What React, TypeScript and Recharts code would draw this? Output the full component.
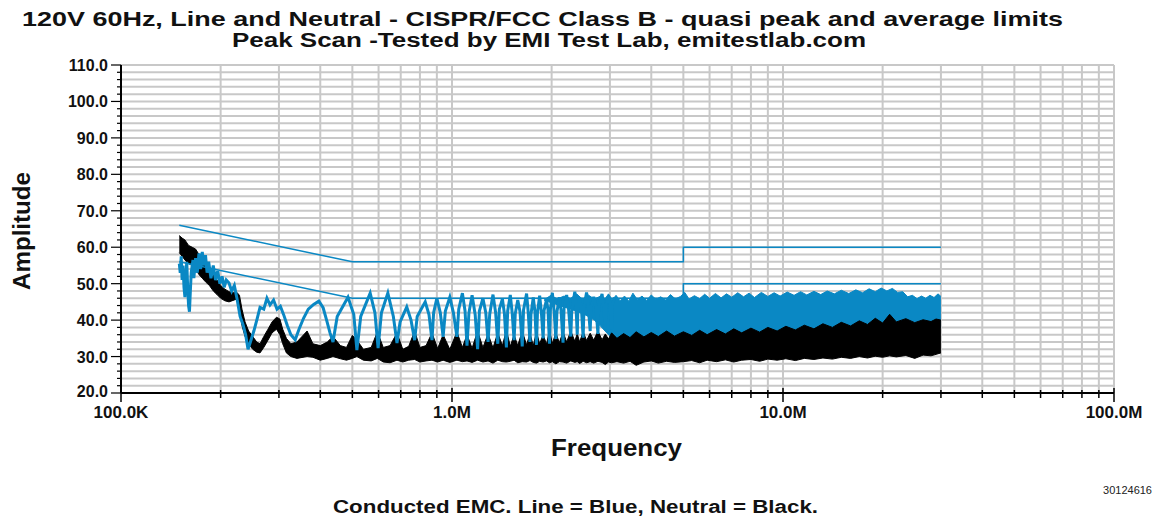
import React from "react";
import { ComposedChart, Line, Area, XAxis, YAxis, CartesianGrid } from "recharts";

// frequency in kHz, level in dB
const FONT = '"Liberation Sans", Arial, Helvetica, sans-serif';
const BLUE = "#0a88c4";

const xTicks = [100, 200, 300, 400, 500, 600, 700, 800, 900, 1000, 2000, 3000, 4000, 5000, 6000, 7000, 8000, 9000, 10000, 20000, 30000, 40000, 50000, 60000, 70000, 80000, 90000, 100000];
const xLabels: Record<number, string> = { 100: "100.0K", 1000: "1.0M", 10000: "10.0M", 100000: "100.0M" };
const yTicks = [20, 22, 24, 26, 28, 30, 32, 34, 36, 38, 40, 42, 44, 46, 48, 50, 52, 54, 56, 58, 60, 62, 64, 66, 68, 70, 72, 74, 76, 78, 80, 82, 84, 86, 88, 90, 92, 94, 96, 98, 100, 102, 104, 106, 108, 110];

// CISPR/FCC class B limits
const qpLimit: [number, number][] = [[150, 66], [500, 56], [5000, 56], [5000, 60], [30000, 60]];
const avgLimit: [number, number][] = [[150, 56], [500, 46], [5000, 46], [5000, 50], [30000, 50]];

// Line (blue) scan, low part where the trace is readable
const lineScan: [number, number][] = [
  [150, 55.5], [151, 53], [152, 57.5], [153, 51], [154, 55], [155, 49], [156, 46.3], [157, 52], [158, 56], [159, 49],
  [160, 44], [161, 42.3], [162, 48], [163, 53], [165, 56.5], [166, 51.5], [168, 57], [170, 53], [172, 58.3], [174, 54],
  [176, 58.7], [178, 55], [180, 57.8], [182, 53], [184, 56], [187, 51.5], [190, 55], [193, 51], [196, 53.5], [199, 50],
  [202, 52], [205, 49], [208, 51], [212, 50.2], [216, 48], [220, 49.5], [224, 46], [229, 41], [234, 38.6], [238, 36],
  [242, 32], [246, 34], [252, 37], [258, 40.5], [263, 43.5], [270, 43], [276, 46], [282, 44.2], [289, 45.5], [296, 43],
  [303, 43.8], [310, 41.5], [318, 38.5], [326, 36], [336, 34.6], [345, 37.5], [356, 40.5], [368, 43], [382, 44.3], [396, 45.2],
  [408, 43.4], [418, 40], [428, 36.5],
  [437, 34], [450, 41], [485, 46.3], [505, 41.5],
  [516, 31.8], [530, 41], [566, 47.4], [585, 42],
  [598, 32.3], [612, 42], [640, 47.4], [665, 41],
  [682, 33.7], [697, 39.5], [730, 43.6], [752, 40],
  [771, 34.5], [785, 41], [830, 45], [852, 41.5],
  [870, 34.5], [880, 42], [900, 46], [922, 42],
  [940, 35.4], [955, 42.5], [985, 46.3], [1010, 42],
  [1035, 35.4], [1048, 43], [1075, 47.4], [1095, 42.5],
  [1110, 33], [1125, 42], [1150, 46.8], [1175, 41.5],
  [1195, 32], [1210, 42.5], [1240, 46], [1265, 42],
  [1285, 34], [1300, 41.6], [1330, 47], [1355, 42],
  [1375, 33.5], [1390, 43], [1420, 45.8], [1440, 41.8],
  [1460, 32.5], [1473, 42.5], [1500, 46.9], [1520, 42],
  [1540, 34.5], [1553, 41.8], [1580, 45.5], [1605, 42.3],
  [1630, 32.8], [1645, 42.8], [1680, 47.3], [1700, 42],
  [1720, 34], [1732, 41.5], [1760, 46.2], [1780, 42.5],
  [1800, 33.2], [1812, 42], [1840, 46.7], [1862, 42.2],
  [1885, 35], [1897, 42.6], [1930, 45.6], [1950, 42.8],
  [1970, 33.5], [1983, 43], [2010, 47.5], [2035, 42.5],
  [2060, 34.8], [2075, 42.2], [2110, 46.3], [2135, 42.7],
  [2165, 33.8], [2180, 43.2], [2220, 46.9], [2250, 43],
  [2285, 35.5], [2300, 42.5], [2350, 47.8], [2370, 43.5],
  [2390, 36], [2400, 43], [2430, 46], [2460, 43.3],
  [2490, 35.2], [2505, 43.6], [2550, 47.6], [2580, 43.8],
  [2615, 37], [2630, 43.5], [2680, 46.4], [2720, 43.6],
  [2760, 36.2], [2775, 44], [2840, 47.2], [2870, 44],
  [2905, 38], [2920, 44.2], [2970, 46.6], [3000, 44.5],
  [3035, 37.5], [3050, 44.3], [3100, 46.2],
];

// Line (blue) scan, dense part: [kHz, low, high]
const lineBand: [number, number, number][] = [
  [1900, 45.4, 45.6], [1990, 44.8, 46.8], [2080, 44.2, 45.8], [2180, 43.6, 46.6], [2280, 43, 45.9], [2380, 42.4, 47.2],
  [2480, 41.8, 45.7], [2580, 41, 46.9], [2690, 40, 45.8], [2800, 38.5, 46.5],
  [2900, 37, 45.8], [2970, 36, 47.2], [3050, 35, 45.5], [3130, 34, 46.8], [3220, 35, 45.3], [3320, 34, 46.6],
  [3420, 35, 45.2], [3520, 34, 47.4], [3630, 34.5, 45.6], [3750, 34, 46.6], [3870, 34.5, 45.4], [4000, 34, 46.9],
  [4130, 34.5, 45.7], [4270, 34, 46.4], [4420, 34.5, 45.5], [4570, 34, 47], [4730, 34.5, 45.8], [4900, 34, 46.5],
  [5050, 34.5, 47.6], [5200, 34, 45.8], [5400, 34.5, 46.7], [5600, 34, 45.9], [5800, 34.5, 47.1], [6000, 34, 46],
  [6250, 35, 47.3], [6500, 34.5, 46.1], [6750, 35, 47.2], [7000, 34.5, 46.3], [7300, 35, 47.5], [7600, 35, 46.4],
  [7900, 35.5, 47.4], [8200, 35, 46.2], [8600, 35.5, 47.6], [9000, 35, 46.5], [9400, 35.5, 47.5], [9800, 35.5, 46.6],
  [10300, 36, 47.7], [10800, 35.5, 46.8], [11300, 36, 47.8], [11800, 36, 46.9], [12400, 36.5, 47.9], [13000, 36, 47],
  [13600, 36.5, 48], [14300, 36.5, 47.2], [15000, 37, 48.2], [15800, 36.5, 47.3], [16600, 37, 48.3], [17400, 37, 47.5],
  [18200, 37.5, 48.6], [19000, 37, 47.8], [19800, 37.5, 48.8], [20600, 37.5, 48], [21400, 38, 48.7], [22200, 37.5, 47.6],
  [23000, 38, 47.8], [23800, 37.5, 46.4], [24600, 37.5, 46.8], [25400, 37, 45.9], [26200, 37.5, 46.6], [27000, 37.5, 46],
  [27800, 38, 46.8], [28600, 37.5, 46.2], [29400, 38, 47.2], [30000, 38, 46.5],
];

// Neutral (black) scan: [kHz, low, high]
const neutralBand: [number, number, number][] = [
  [150, 58.5, 63.2], [153, 57.5, 62.5], [156, 56.5, 62], [160, 55.5, 60.5], [164, 55, 60], [168, 54, 59.5],
  [172, 52.5, 58], [176, 51.5, 57], [180, 50.5, 55.5], [185, 49.5, 54], [190, 48, 52.5], [195, 47, 51],
  [200, 46, 49.5], [206, 45.3, 48.5], [212, 45, 47.8], [218, 45.4, 47.5], [224, 45.8, 47.6], [228, 43, 46.8],
  [232, 38.5, 43], [237, 35.5, 39.5], [243, 33.5, 37], [250, 32, 35.5], [257, 31.2, 34], [263, 31, 33.5],
  [270, 32.5, 35.5], [278, 34.5, 37.5], [286, 36.5, 39.5], [295, 37.5, 40.8], [302, 36, 40.3], [308, 33.5, 37.5],
  [316, 31, 35], [326, 30, 33.5], [340, 29.5, 34], [365, 30, 37], [380, 29.8, 33.5], [400, 29, 33],
  [420, 29.5, 34], [437, 30, 35.5], [460, 29.4, 33], [480, 29, 32.5], [500, 29.5, 35.8], [516, 30, 34.5],
  [540, 29, 32], [570, 28.8, 32.5], [595, 29.5, 36.8], [620, 28.5, 32.5], [650, 28.3, 33], [682, 29, 36.5],
  [710, 28.5, 32], [740, 29, 32.8], [771, 29.2, 37], [800, 28.5, 32.5], [835, 28.8, 33], [870, 29, 36.5],
  [905, 28.5, 32.2], [940, 29, 36], [985, 28.4, 32], [1035, 29, 36.8], [1075, 28.6, 32.5], [1110, 28.8, 36],
  [1150, 28.4, 32.3], [1195, 29, 37], [1240, 28.5, 32.5], [1285, 28.8, 36.2], [1330, 28.2, 32.4], [1375, 29, 36.5],
  [1420, 28.6, 33], [1460, 28.5, 37.3], [1500, 28.7, 32.8], [1540, 29, 36], [1580, 28.3, 33], [1630, 28.6, 37],
  [1680, 28.5, 33.2], [1720, 28.9, 36.4], [1760, 28.4, 33], [1800, 28.2, 36.8], [1840, 28.7, 33.5], [1885, 28.5, 36],
  [1930, 28.8, 33.4], [1970, 28.3, 37.2], [2010, 28.6, 33.6], [2060, 28, 36.5], [2110, 28.6, 33.8], [2165, 28.5, 36.8],
  [2220, 28.2, 34], [2285, 28.8, 37], [2350, 28.4, 34.2], [2390, 28.6, 36.3], [2430, 28.1, 34], [2490, 28.7, 36.8],
  [2550, 28.3, 34.4], [2615, 28.6, 36.4], [2680, 28.2, 34.5], [2760, 28.7, 37], [2840, 28.4, 34.6], [2905, 27.8, 36.2],
  [2970, 28.5, 34.8], [3035, 28.3, 36.5], [3150, 28.6, 35], [3300, 28.2, 36.3], [3450, 28.7, 35.2], [3600, 27.6, 36.8],
  [3800, 28.5, 35.4], [4000, 28.8, 36.6], [4200, 28.2, 35.5], [4450, 28.7, 37], [4700, 28.4, 35.6], [5000, 28.6, 36.8],
  [5300, 28.9, 35.8], [5600, 28.3, 37.2], [5900, 29, 36], [6300, 28.6, 37.4], [6700, 29.1, 36.2], [7100, 28.5, 37.6],
  [7500, 29, 36.5], [8000, 29.2, 37.8], [8500, 28.7, 36.7], [9000, 29.3, 38], [9600, 29, 37], [10200, 29.4, 38.3],
  [10900, 28.9, 37.3], [11600, 29.5, 38.6], [12400, 29.2, 37.6], [13200, 29.6, 39], [14100, 29.3, 38], [15000, 29.8, 39.4],
  [16000, 29.5, 38.4], [17000, 30, 39.8], [18000, 29.6, 38.8], [19000, 30.1, 40.5], [20000, 29.8, 39.2], [21000, 30.2, 41.6],
  [22000, 29.9, 39.5], [23500, 30.3, 40.4], [25000, 29.5, 39.3], [26500, 30.4, 40.1], [28000, 30.2, 39.6], [29000, 30.6, 40.3],
  [30000, 31, 40],
];

const pts = (a: [number, number][]) => a.map(([f, v]) => ({ f, v }));
const band = (a: [number, number, number][]) => a.map(([f, lo, hi]) => ({ f, r: [lo, hi] }));

const XTick = (props: any) => {
  const { x, y, payload } = props;
  const label = xLabels[payload.value];
  const major = label !== undefined;
  return (
    <g>
      <line x1={x} x2={x} y1={y - (major ? 5 : 3)} y2={y + (major ? 9 : 5)} stroke="#000" strokeWidth={1.5} />
      {major && (
        <text x={x} y={y + 25} textAnchor="middle" fontFamily={FONT} fontWeight="bold" fontSize={17} fill="#111">
          {label}
        </text>
      )}
    </g>
  );
};

const YTick = (props: any) => {
  const { x, y, payload } = props;
  const v = payload.value;
  const major = v % 10 === 0;
  return (
    <g>
      <line x1={x - (major ? 10 : 4)} x2={x} y1={y} y2={y} stroke="#000" strokeWidth={1.2} />
      {major && (
        <text x={x - 13} y={y + (v === 20 ? 4 : 6)} textAnchor="end" fontFamily={FONT} fontWeight="bold" fontSize={16} fill="#111">
          {v.toFixed(1)}
        </text>
      )}
    </g>
  );
};

export default function App() {
  return (
    <div style={{ position: "absolute", left: 0, top: 0, width: 1160, height: 519, background: "#fff" }}>
      <ComposedChart width={1160} height={519} margin={{ top: 65, right: 46, bottom: 0, left: 0 }}>
        <CartesianGrid stroke="#c8c8c8" strokeWidth={2} />
        <XAxis
          type="number"
          dataKey="f"
          scale="log"
          domain={[100, 100000]}
          ticks={xTicks}
          interval={0}
          height={126}
          tickSize={0}
          tickMargin={0}
          tick={<XTick />}
          axisLine={{ stroke: "#000", strokeWidth: 2 }}
          allowDataOverflow
        />
        <YAxis
          type="number"
          domain={[20, 110]}
          ticks={yTicks}
          interval={0}
          width={121}
          tickSize={0}
          tickMargin={0}
          tick={<YTick />}
          axisLine={{ stroke: "#000", strokeWidth: 2 }}
          allowDataOverflow
        />
        <Line data={pts(qpLimit)} dataKey="v" stroke={BLUE} strokeWidth={1.5} dot={false} activeDot={false} isAnimationActive={false} />
        <Line data={pts(avgLimit)} dataKey="v" stroke={BLUE} strokeWidth={1.5} dot={false} activeDot={false} isAnimationActive={false} />
        <Area data={band(lineBand)} dataKey="r" stroke={BLUE} strokeWidth={1} fill={BLUE} fillOpacity={1} dot={false} activeDot={false} isAnimationActive={false} />
        <Line data={pts(lineScan)} dataKey="v" stroke={BLUE} strokeWidth={3} dot={false} activeDot={false} isAnimationActive={false} />
        <Area data={band(neutralBand)} dataKey="r" stroke="#000" strokeWidth={1} fill="#000" fillOpacity={1} dot={false} activeDot={false} isAnimationActive={false} />
      </ComposedChart>
      <svg width={1160} height={519} style={{ position: "absolute", left: 0, top: 0, pointerEvents: "none" }}>
        <g fontFamily={FONT} fontWeight="bold" fill="#111">
          <text x={22} y={26} fontSize={21} textLength={1041} lengthAdjust="spacingAndGlyphs">
            120V 60Hz, Line and Neutral - CISPR/FCC Class  B - quasi peak and average limits
          </text>
          <text x={232} y={47} fontSize={20} textLength={634} lengthAdjust="spacingAndGlyphs">
            Peak Scan -Tested by EMI Test Lab, emitestlab.com
          </text>
          <text x={551} y={456} fontSize={23} textLength={131} lengthAdjust="spacingAndGlyphs">
            Frequency
          </text>
          <text x={0} y={0} fontSize={23} textLength={118} lengthAdjust="spacingAndGlyphs" transform="translate(30 290) rotate(-90)">
            Amplitude
          </text>
          <text x={333} y={513} fontSize={18} textLength={485} lengthAdjust="spacingAndGlyphs">
            Conducted EMC. Line = Blue, Neutral = Black.
          </text>
        </g>
        <text x={1152} y={494} textAnchor="end" fontFamily={FONT} fontSize={11} fill="#222">
          30124616
        </text>
      </svg>
    </div>
  );
}
